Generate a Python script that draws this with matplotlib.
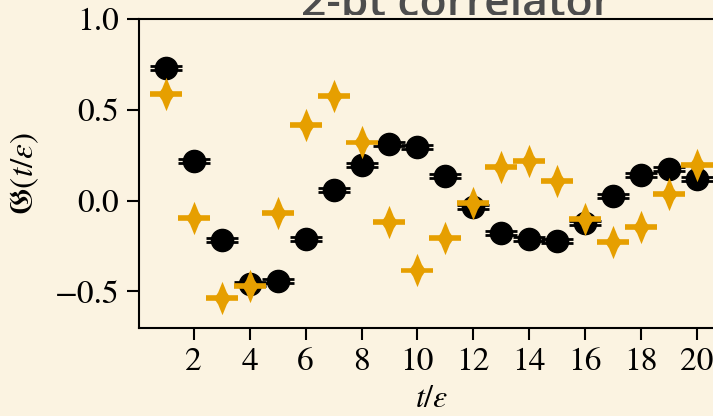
import matplotlib
matplotlib.use("Agg")
import matplotlib.pyplot as plt
from matplotlib.path import Path
from matplotlib.transforms import Bbox, TransformedBbox

# Correlator data, one point per time slice
t_slices = [1, 2, 3, 4, 5, 6, 7, 8, 9, 10, 11, 12, 13, 14, 15, 16, 17, 18, 19, 20]
corr_black = [0.73, 0.22, -0.215, -0.46, -0.445, -0.21, 0.06, 0.195, 0.31, 0.295,
              0.135, -0.035, -0.18, -0.21, -0.22, -0.125, 0.025, 0.14, 0.175, 0.12]
err_black = [0.011, 0.011, 0.011, 0.011, 0.011, 0.011, 0.011, 0.011, 0.011, 0.011,
             0.011, 0.011, 0.011, 0.011, 0.011, 0.011, 0.011, 0.011, 0.011, 0.011]
corr_orange = [0.585, -0.095, -0.535, -0.47, -0.07, 0.415, 0.575, 0.32, -0.12, -0.385,
               -0.205, -0.015, 0.185, 0.22, 0.11, -0.10, -0.23, -0.145, 0.035, 0.195]
err_orange = [0.005, 0.005, 0.005, 0.005, 0.005, 0.005, 0.005, 0.005, 0.005, 0.005,
              0.005, 0.005, 0.005, 0.005, 0.005, 0.005, 0.005, 0.005, 0.005, 0.005]
x_ticks = [2, 4, 6, 8, 10, 12, 14, 16, 18, 20]
y_ticks = [-0.5, 0.0, 0.5, 1.0]

bg = '#fbf3e1'
orange = '#e69f00'

plt.rcParams['font.family'] = 'STIXGeneral'
plt.rcParams['mathtext.fontset'] = 'stix'

# slim four-point sparkle for the second series
sparkle = Path([(0, 1), (0.26, 0.36), (0.5, 0), (0.26, -0.36), (0, -1),
                (-0.26, -0.36), (-0.5, 0), (-0.26, 0.36), (0, 1)],
               [Path.MOVETO] + [Path.LINETO] * 7 + [Path.CLOSEPOLY])

fig = plt.figure(figsize=(7.13, 4.16), dpi=100, facecolor=bg)
ax = fig.add_axes([0.1955, 0.2123, 0.819, 0.742], facecolor=bg)

ax.errorbar(t_slices, corr_black, yerr=err_black, fmt='o', color='black',
            markersize=16, capsize=11.5, capthick=2.0, elinewidth=1.5)
ax.errorbar(t_slices, corr_orange, yerr=err_orange, fmt='none', ecolor=orange,
            capsize=11.5, capthick=2.6, elinewidth=1.5, zorder=3)
ax.plot(t_slices, corr_orange, linestyle='none', marker=sparkle, markersize=24,
        color=orange, markeredgewidth=0, zorder=3.1)

ax.set_xlim(0.05, 20.95)
ax.set_ylim(-0.7, 1.0)
ax.set_xticks(x_ticks)
ax.set_yticks(y_ticks)
ax.tick_params(direction='out', length=8.5, width=1.5, labelsize=24, pad=6)
for sp in ax.spines.values():
    sp.set_linewidth(1.5)

ax.set_xlabel(r'$t/\varepsilon$', fontsize=23, labelpad=5)
ax.set_ylabel(r'$\mathfrak{G}(t/\varepsilon)$', fontsize=24, labelpad=10)

# heading sits above the plot; its lower edge is hidden behind the plot area
title = fig.text(0.64, 0.9615, '2-pt correlator', ha='center', va='baseline',
                 fontsize=32, color='#4d4d4d', family='Open Sans', weight='semibold')
title.set_clip_box(TransformedBbox(Bbox([[0, 0.965], [1, 1.1]]), fig.transFigure))
title.set_clip_on(True)

fig.savefig('out.png', dpi=100, facecolor=bg)
